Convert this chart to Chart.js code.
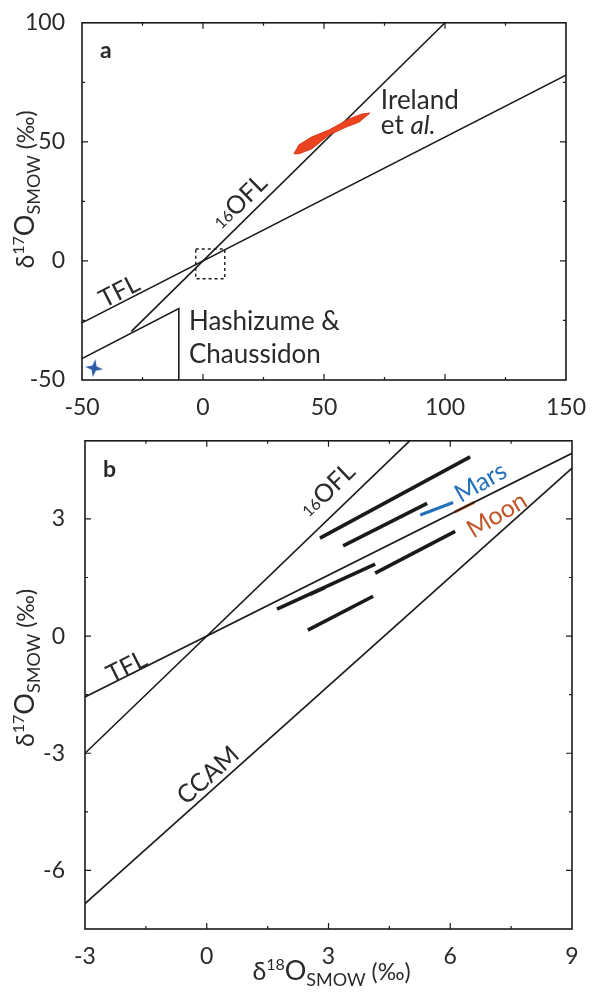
<!DOCTYPE html>
<html>
<head>
<meta charset="utf-8">
<script src="https://cdn.jsdelivr.net/npm/chart.js@4"></script>
<style>
  body { margin: 0; background: #fff; }
  canvas { position: absolute; left: 0; }
  #chartA { top: 0; }
  #chartB { top: 415px; }
</style>
</head>
<body>
<canvas id="chartA" width="592" height="415"></canvas>
<canvas id="chartB" width="592" height="583"></canvas>
<script>
// PANEL A data (delta18O, delta17O)
const ticksAX = [-50, 0, 50, 100, 150];
const ticksAY = [-50, 0, 50, 100];
const oflA = [[-29.6, -29.6], [100, 100]];
const tflA = [[-50, -26], [150, 78]];
const hashizume = [[-50, -41], [-10, -20], [-10, -50]];
const zoomBox = [[-3, 5], [9, 5], [9, -7.5], [-3, -7.5], [-3, 5]];
const ireland = [[37.6, 45], [39.7, 48.8], [45, 52.1], [52.1, 55], [60.3, 59.6], [65.7, 61.7], [69, 62.1],
  [64.5, 58.3], [59.1, 56.2], [52.1, 52.9], [45, 47.1], [39.7, 45], [37.6, 45]];
const hashizumePoint = [[-45, -45]];

// PANEL B data
const ticksBX = [-3, 0, 3, 6, 9];
const ticksBY = [-6, -3, 0, 3];
const oflB = [[-3, -3], [5, 5]];
const tflB = [[-3, -1.56], [9, 4.68]];
const ccam = [[-3, -6.85], [9, 4.3]];
const meteorites = [
  [[2.79, 2.51], [6.49, 4.59]],
  [[3.36, 2.31], [5.43, 3.40]],
  [[4.15, 1.61], [6.12, 2.68]],
  [[1.73, 0.69], [4.15, 1.84]],
  [[2.54, 1.07], [2.91, 1.24]],
  [[2.49, 0.15], [4.10, 1.02]]
];
const mars = [[5.26, 3.10], [6.07, 3.42]];
const moon = [[6.1, 3.17], [6.6, 3.43]];

const INK = '#1a1a1a';
const TXT = '#2a2a2a';
const FONT = 'Lato';

function pts(arr) {
  return arr.map(p => ({ x: p[0], y: p[1] }));
}

function lineSet(arr, color, width, dash) {
  return {
    data: pts(arr), showLine: true, pointRadius: 0,
    borderColor: color, borderWidth: width, borderDash: dash || [],
    borderCapStyle: 'butt', fill: false
  };
}

function hasLabel(list, v) {
  return list.some(l => Math.abs(l - v) < 1e-6);
}

// 4 pointed star marker
function starImage() {
  let c = document.createElement('canvas');
  c.width = 20; c.height = 20;
  let g = c.getContext('2d');
  g.fillStyle = '#2b5aa8';
  g.beginPath();
  for (let i = 0; i < 8; i++) {
    let a = i * Math.PI / 4 - Math.PI / 2 + 0.15;
    let r = i % 2 === 0 ? 9 : 3;
    let px = 10 + r * Math.cos(a), py = 10 + r * Math.sin(a);
    if (i === 0) g.moveTo(px, py); else g.lineTo(px, py);
  }
  g.closePath();
  g.fill();
  return c;
}

// rich text: parts drawn one after another along a rotated baseline
function drawRich(ctx, x, y, angle, parts, align, vmid) {
  ctx.save();
  ctx.translate(x, y);
  ctx.rotate(angle);
  ctx.textBaseline = 'alphabetic';
  let total = 0;
  parts.forEach(p => { ctx.font = p.font; p.w = ctx.measureText(p.t).width; total += p.w; });
  let cx = align === 'left' ? 0 : -total / 2;
  let base = vmid || 0;
  parts.forEach(p => {
    ctx.font = p.font;
    ctx.fillStyle = p.color || TXT;
    ctx.fillText(p.t, cx, base + (p.dy || 0));
    cx += p.w;
  });
  ctx.restore();
}

function angleOf(chart, line) {
  const { x, y } = chart.scales;
  let a = line[0], b = line[line.length - 1];
  return Math.atan2(y.getPixelForValue(b[1]) - y.getPixelForValue(a[1]),
                    x.getPixelForValue(b[0]) - x.getPixelForValue(a[0]));
}

function plain(t, size, extra) {
  return { t, font: (extra || '') + ' ' + size + 'px ' + FONT };
}

function oflLabel() {
  return [{ t: '16', font: '16px ' + FONT, dy: -1 }, plain('OFL', 25)];
}

function titleParts(iso) {
  return [
    plain('δ', 25),
    { t: iso, font: '16px ' + FONT, dy: -10 },
    plain('O', 27),
    { t: 'SMOW', font: '18px ' + FONT, dy: 6 },
    plain(' (‰)', 23)
  ];
}

// frame with inward ticks on all four sides
const framePlugin = {
  id: 'frame',
  afterDatasetsDraw(chart) {
    const { ctx, chartArea: a, scales: { x, y } } = chart;
    ctx.save();
    ctx.strokeStyle = INK;
    ctx.lineWidth = 1.6;
    ctx.strokeRect(a.left, a.top, a.right - a.left, a.bottom - a.top);
    ctx.lineWidth = 1.2;
    x.ticks.forEach(t => {
      let px = x.getPixelForValue(t.value);
      if (px <= a.left + 1 || px >= a.right - 1) return;
      let len = t.label !== '' ? 6 : 3;
      ctx.beginPath();
      ctx.moveTo(px, a.bottom); ctx.lineTo(px, a.bottom - len);
      ctx.moveTo(px, a.top); ctx.lineTo(px, a.top + len);
      ctx.stroke();
    });
    y.ticks.forEach(t => {
      let py = y.getPixelForValue(t.value);
      if (py <= a.top + 1 || py >= a.bottom - 1) return;
      let len = t.label !== '' ? 6 : 3;
      ctx.beginPath();
      ctx.moveTo(a.left, py); ctx.lineTo(a.left + len, py);
      ctx.moveTo(a.right, py); ctx.lineTo(a.right - len, py);
      ctx.stroke();
    });
    ctx.restore();
  }
};

const labelsA = {
  id: 'labelsA',
  afterDraw(chart) {
    const { ctx, chartArea: a, scales: { x, y } } = chart;
    drawRich(ctx, a.left + 18, a.top + 35, 0, [plain('a', 23, 'bold')], 'left');
    drawRich(ctx, x.getPixelForValue(14.9), y.getPixelForValue(25), angleOf(chart, oflA), oflLabel(), 'center', 9);
    drawRich(ctx, x.getPixelForValue(-34.7), y.getPixelForValue(-12.5), angleOf(chart, tflA), [plain('TFL', 25)], 'center', 9);
    drawRich(ctx, x.getPixelForValue(73.5), y.getPixelForValue(63.8), 0, [plain('Ireland', 26)], 'left');
    drawRich(ctx, x.getPixelForValue(73.5), y.getPixelForValue(53.3), 0, [plain('et ', 26), plain('al.', 26, 'italic')], 'left');
    drawRich(ctx, x.getPixelForValue(-5.8), y.getPixelForValue(-29.2), 0, [plain('Hashizume &', 26)], 'left');
    drawRich(ctx, x.getPixelForValue(-5.8), y.getPixelForValue(-42.9), 0, [plain('Chaussidon', 26)], 'left');
    drawRich(ctx, 34, (a.top + a.bottom) / 2 - 12, -Math.PI / 2, titleParts('17'), 'center');
  }
};

const labelsB = {
  id: 'labelsB',
  afterDraw(chart) {
    const { ctx, chartArea: a, scales: { x, y } } = chart;
    drawRich(ctx, a.left + 18, a.top + 36, 0, [plain('b', 23, 'bold')], 'left');
    drawRich(ctx, x.getPixelForValue(2.96), y.getPixelForValue(3.75), angleOf(chart, oflB), oflLabel(), 'center', 9);
    let mp = [plain('Mars', 25)]; mp[0].color = '#2470b8';
    drawRich(ctx, x.getPixelForValue(6.74), y.getPixelForValue(3.95), -0.52, mp, 'center', 9);
    let mo = [plain('Moon', 25)]; mo[0].color = '#c0562a';
    drawRich(ctx, x.getPixelForValue(7.14), y.getPixelForValue(3.12), -0.54, mo, 'center', 9);
    drawRich(ctx, x.getPixelForValue(-1.98), y.getPixelForValue(-0.77), angleOf(chart, tflB), [plain('TFL', 25)], 'center', 9);
    drawRich(ctx, x.getPixelForValue(0.02), y.getPixelForValue(-3.55), angleOf(chart, ccam), [plain('CCAM', 25)], 'center', 9);
    drawRich(ctx, 34, (a.top + a.bottom) / 2 - 17, -Math.PI / 2, titleParts('17'), 'center');
    drawRich(ctx, (a.left + a.right) / 2 + 3, a.bottom + 51, 0, titleParts('18'), 'center');
  }
};

function makeOptions(xr, xLabels, yr, yLabels, lay) {
  const tickFont = { family: FONT, size: 23 };
  return {
    responsive: false,
    animation: false,
    layout: { padding: lay.padding },
    plugins: { legend: { display: false }, tooltip: { enabled: false } },
    scales: {
      x: {
        type: 'linear', min: xr[0], max: xr[1],
        grid: { display: false }, border: { display: false },
        afterFit: s => { s.height = lay.xh; },
        ticks: {
          stepSize: xr[2], autoSkip: false, maxRotation: 0, padding: lay.xpad,
          color: TXT, font: tickFont,
          callback: v => hasLabel(xLabels, v) ? String(Math.round(v)) : ''
        }
      },
      y: {
        type: 'linear', min: yr[0], max: yr[1],
        grid: { display: false }, border: { display: false },
        afterFit: s => { s.width = lay.yw; },
        ticks: {
          stepSize: yr[2], autoSkip: false, padding: lay.ypad,
          color: TXT, font: tickFont,
          callback: v => hasLabel(yLabels, v) ? String(Math.round(v)) : ''
        }
      }
    }
  };
}

// PANEL A
let irelandSet = lineSet(ireland, '#d83a1a', 1);
irelandSet.fill = 'shape';
irelandSet.backgroundColor = '#ec4320';

new Chart(document.getElementById('chartA'), {
  type: 'scatter',
  data: {
    datasets: [
      irelandSet,
      lineSet(oflA, INK, 1.6),
      lineSet(tflA, INK, 1.6),
      lineSet(hashizume, INK, 1.6),
      lineSet(zoomBox, INK, 1.4, [3, 3]),
      { data: pts(hashizumePoint), showLine: false, pointStyle: starImage(), pointRadius: 9 }
    ]
  },
  options: makeOptions([-50, 150, 25], ticksAX, [-50, 100, 25], ticksAY,
    { padding: { top: 20, right: 25, bottom: 0, left: 0 }, xh: 35, yw: 82, xpad: 6, ypad: 9 }),
  plugins: [framePlugin, labelsA]
});

// PANEL B
let setsB = [
  lineSet(oflB, INK, 1.6),
  lineSet(tflB, INK, 1.6),
  lineSet(ccam, INK, 1.6)
];
meteorites.forEach(m => setsB.push(lineSet(m, INK, 3.6)));
setsB.push(lineSet(mars, '#2470b8', 3));
setsB.push(lineSet(moon, '#e06a2a', 3));

new Chart(document.getElementById('chartB'), {
  type: 'scatter',
  data: { datasets: setsB },
  options: makeOptions([-3, 9, 1.5], ticksBX, [-7.5, 5, 1.5], ticksBY,
    { padding: { top: 12, right: 20, bottom: 0, left: 0 }, xh: 69, yw: 85, xpad: 6, ypad: 12 }),
  plugins: [framePlugin, labelsB]
});
</script>
</body>
</html>
